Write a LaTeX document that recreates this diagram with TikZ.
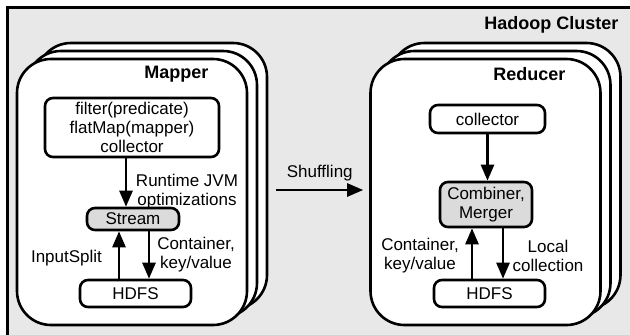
\documentclass[tikz,border=0pt]{standalone}
\usepackage{fontspec}
\setmainfont{Liberation Sans}
\usepackage{xcolor}
\usetikzlibrary{arrows.meta,positioning}

\tikzset{
  card/.style={draw,fill=white,line width=2.6pt,rounded corners=34pt,minimum width=230pt,minimum height=266pt},
  box/.style={draw,fill=white,line width=2.6pt,rounded corners=8pt,align=center,inner sep=2pt},
  stepbox/.style={box,fill=gray!28},
  arr/.style={line width=2.6pt,-{Triangle[length=16pt,width=13pt]}},
  title/.style={font=\fontsize{18}{20}\selectfont\bfseries},
  lbl/.style={align=center}
}

\begin{document}
\begin{tikzpicture}[x=1pt,y=-1pt,font=\fontsize{17}{19}\selectfont]
    \useasboundingbox (0,0) rectangle (630,335);

    % Cluster
    \draw[line width=3pt,fill=gray!18] (7,7) rectangle (645,350);
    \node[title,anchor=east] (cluster) at (622,25) {Hadoop Cluster};

    % Mapper stack
    \node[card] (mapper3) at (152,176) {};
    \node[card] (mapper2) at (142,184) {};
    \node[card] (mapper1) at (132,192) {};
    \node[title,anchor=east] (maptitle) at (212,74) {Mapper};

    \node[box,minimum width=174pt,minimum height=59pt] (filter) at (132,127.5)
        {filter(predicate)\\flatMap(mapper)\\collector};
    \node[stepbox,minimum width=92pt,minimum height=22pt] (stream) at (133,219) {Stream};
    \node[box,minimum width=111pt,minimum height=27pt] (hdfsm) at (135.5,293.5) {HDFS};

    \draw[arr] ([xshift=-6pt]filter.south) -- ([xshift=-6pt]filter.south |- stream.north);
    \draw[arr] ([xshift=-14pt]stream.south |- hdfsm.north) -- ([xshift=-14pt]stream.south);
    \draw[arr] ([xshift=16pt]stream.south) -- ([xshift=16pt]stream.south |- hdfsm.north);

    \node[lbl] (jvm) at (187,191.5) {Runtime JVM\\optimizations};
    \node[lbl] (split) at (66.5,258) {InputSplit};
    \node[lbl] (contm) at (196,254.5) {Container,\\key/value};

    % Reducer stack
    \node[card] (reducer3) at (505.5,176) {};
    \node[card] (reducer2) at (495.5,184) {};
    \node[card] (reducer1) at (485.5,192) {};
    \node[title,anchor=east] (redtitle) at (569,74) {Reducer};

    \node[box,minimum width=115pt,minimum height=28pt] (collector) at (487.5,119) {collector};
    \node[stepbox,minimum width=92pt,minimum height=45pt] (combiner) at (486,204.5) {Combiner,\\Merger};
    \node[box,minimum width=111pt,minimum height=27pt] (hdfsr) at (489.5,293.5) {HDFS};

    \draw[arr] (collector.south) -- (collector.south |- combiner.north);
    \draw[arr] ([xshift=-14pt]combiner.south |- hdfsr.north) -- ([xshift=-14pt]combiner.south);
    \draw[arr] ([xshift=17pt]combiner.south) -- ([xshift=17pt]combiner.south |- hdfsr.north);

    \node[lbl] (contr) at (420,256) {Container,\\key/value};
    \node[lbl] (local) at (548,256) {Local\\collection};

    % Shuffling
    \draw[arr] ([xshift=8pt]mapper3.east |- 0,190) -- ([xshift=-6pt]reducer1.west |- 0,190)
        node[midway,above=4pt] (shuf) {Shuffling};
\end{tikzpicture}
\end{document}
